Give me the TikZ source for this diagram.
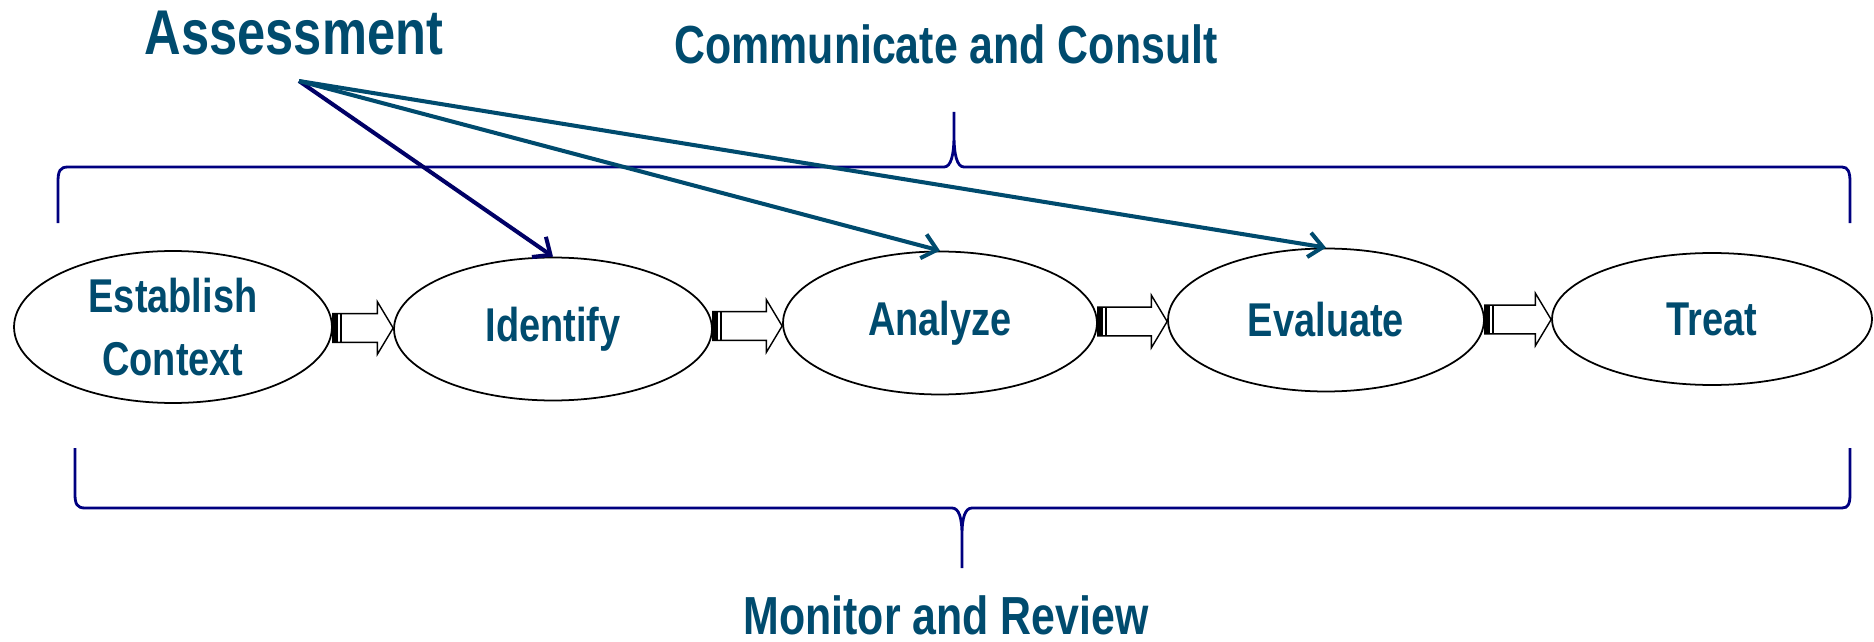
\documentclass[tikz,border=0pt]{standalone}
\usepackage{fontspec}
\setmainfont{Liberation Sans}[FakeStretch=0.8]
\usetikzlibrary{arrows.meta,calc,shapes.geometric}

\definecolor{labelblue}{HTML}{004B6E}
\definecolor{bracenavy}{HTML}{000080}
\definecolor{arrownavy}{HTML}{000066}

\newcommand{\stagefont}{\fontsize{27}{36}\selectfont\bfseries}

% block arrow from the east side of one stage to the west side of the next
\newcommand{\stagearrow}[2]{%
  \draw[stagearrow] let \p1=(#1.east), \p2=(#2.west), \p3=($(#1.east)!0.5!(#2.west)$) in
    (\x1,\y3+8.2pt) -- (\x2-9pt,\y3+8.2pt) -- (\x2-9pt,\y3+15pt) -- (\x2,\y3)
    -- (\x2-9pt,\y3-15pt) -- (\x2-9pt,\y3-8.2pt) -- (\x1,\y3-8.2pt) -- cycle;
  \fill let \p1=(#1.east), \p3=($(#1.east)!0.5!(#2.west)$) in
    (\x1,\y3-8.2pt) rectangle (\x1+3pt,\y3+8.2pt);
  \draw[line width=0.8pt] let \p1=(#1.east), \p3=($(#1.east)!0.5!(#2.west)$) in
    (\x1+4.6pt,\y3-8.2pt) -- (\x1+4.6pt,\y3+8.2pt);
}

\tikzset{
  stage/.style={ellipse, draw=black, line width=1pt, inner sep=0pt,
    text=labelblue, font=\stagefont, align=center},
  stagearrow/.style={draw=black, fill=white, line width=0.8pt},
  brace/.style={draw=bracenavy, line width=1.6pt},
  assessarrow/.style={line width=2.3pt, -{Straight Barb[length=8pt,width=14pt]}},
  heading/.style={text=labelblue, font=\fontsize{30.5}{36}\selectfont\bfseries}
}

\begin{document}
\begin{tikzpicture}[x=0.02cm, y=-0.02cm]
  \useasboundingbox (0,0) rectangle (1874,642);

  % headings
  \node[heading, font=\fontsize{36}{40}\selectfont\bfseries] (asmt) at (294,33) {Assessment};
  \node[heading] (comm) at (946,44) {Communicate and Consult};
  \node[heading] (mon) at (946,615) {Monitor and Review};

  % the five stages
  \node[stage, minimum width=6.36cm, minimum height=3.04cm] (ctx) at (173,327) {Establish\\Context};
  \node[stage, minimum width=6.36cm, minimum height=2.86cm] (idf) at (553,329) {Identify};
  \node[stage, minimum width=6.28cm, minimum height=2.86cm] (ana) at (940,323) {Analyze};
  \node[stage, minimum width=6.32cm, minimum height=2.86cm] (evl) at (1326,320) {Evaluate};
  \node[stage, minimum width=6.40cm, minimum height=2.64cm] (trt) at (1712,319) {Treat};

  \stagearrow{ctx}{idf}
  \stagearrow{idf}{ana}
  \stagearrow{ana}{evl}
  \stagearrow{evl}{trt}

  % top brace
  \draw[brace] (58,223) -- (58,182) .. controls (58,171) and (60,167) .. (68,167)
    -- (944,167) .. controls (951,167) and (954,155) .. (954,135) -- (954,112)
    (954,135) .. controls (954,155) and (957,167) .. (964,167)
    -- (1842,167) .. controls (1848,167) and (1850,172) .. (1850,182) -- (1850,223);

  % bottom brace
  \draw[brace] (75,448) -- (75,494) .. controls (75,504) and (77,508) .. (85,508)
    -- (952,508) .. controls (959,508) and (962,518) .. (962,535) -- (962,568)
    (962,535) .. controls (962,518) and (965,508) .. (972,508)
    -- (1842,508) .. controls (1848,508) and (1850,504) .. (1850,494) -- (1850,448);

  % assessment arrows
  \coordinate (src) at (299,81);
  \draw[assessarrow, draw=arrownavy] (src) -- (idf.north);
  \draw[assessarrow, draw=labelblue] (src) -- (ana.north);
  \draw[assessarrow, draw=labelblue] (src) -- (evl.north);
\end{tikzpicture}
\end{document}
